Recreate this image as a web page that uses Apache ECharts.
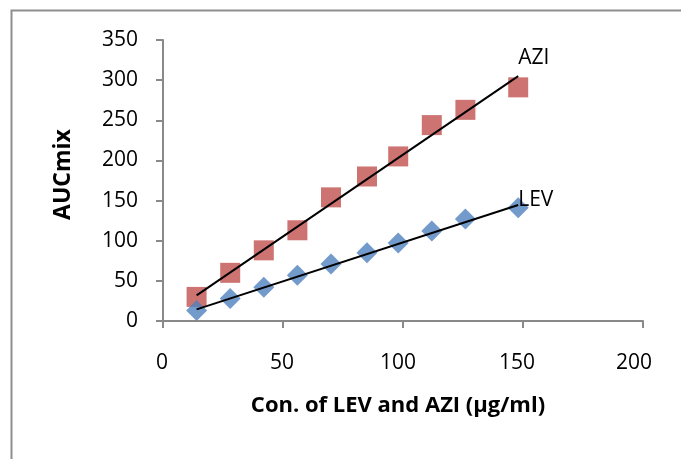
<!DOCTYPE html>
<html>
<head>
<meta charset="utf-8">
<title>AUCmix vs concentration</title>
<script src="https://cdn.jsdelivr.net/npm/echarts@6/dist/echarts.min.js"></script>
<style>
  html, body { margin: 0; padding: 0; background: #fff; }
  #chart { width: 681px; height: 459px; }
</style>
</head>
<body>
<div id="chart"></div>
<script>
  // concentrations (µg/ml)
  let conc = [14, 28, 42, 56, 70, 85, 98, 112, 126, 148]
  let aziVals = [30, 60, 88, 113, 154, 180, 205, 244, 263, 291]
  let levVals = [13, 28, 42, 57, 71, 85, 97, 112, 127, 141]
  // trendline end points
  let aziTrend = [[14, 32], [148, 305]]
  let levTrend = [[14, 14.5], [148, 144.5]]
  let xTicks = [0, 50, 100, 150, 200]
  let yTicks = [0, 50, 100, 150, 200, 250, 300, 350]

  let font = 'Open Sans'
  let axisGray = '#898989'

  let myChart = echarts.init(document.getElementById('chart'))

  let pairs = (xs, ys) => xs.map((x, i) => [x, ys[i]])

  // the x tick labels drift a little to the left in the original
  let xShift = [1, 1, 5, 6, 9]
  let xRich = {}
  xShift.forEach((s, i) => {
    xRich['t' + i] = { fontSize: 21, color: '#000', fontFamily: font, padding: [0, s * 2, 0, 0] }
  })

  myChart.setOption({
    animation: false,
    textStyle: { fontFamily: font },
    graphic: [{
      type: 'polyline',
      shape: { points: [[11.5, 459], [11.5, 10.5], [681, 10.5]] },
      style: { stroke: '#8e8e8e', lineWidth: 2, fill: null },
      silent: true
    }],
    grid: { left: 163, right: 38, top: 40, bottom: 138 },
    xAxis: {
      type: 'value',
      min: xTicks[0],
      max: xTicks[xTicks.length - 1],
      interval: 50,
      name: 'Con. of LEV and AZI (µg/ml)',
      nameLocation: 'middle',
      nameGap: 74,
      nameTextStyle: { fontSize: 22, fontWeight: 'bold', color: '#000', fontFamily: font, padding: [0, 10, 0, 0] },
      axisLine: { lineStyle: { color: axisGray, width: 2 } },
      axisTick: { show: true, length: 7, lineStyle: { color: axisGray, width: 2 } },
      axisLabel: {
        margin: 32,
        formatter: v => '{t' + xTicks.indexOf(v) + '|' + v + '}',
        rich: xRich
      },
      splitLine: { show: false }
    },
    yAxis: {
      type: 'value',
      min: yTicks[0],
      max: yTicks[yTicks.length - 1],
      interval: 50,
      name: 'AUCmix',
      nameLocation: 'middle',
      nameGap: 88,
      nameTextStyle: { fontSize: 23, fontWeight: 'bold', color: '#000', fontFamily: font, padding: [0, 0, 0, 12] },
      axisLine: { show: true, lineStyle: { color: axisGray, width: 2 } },
      axisTick: { show: true, length: 7, lineStyle: { color: axisGray, width: 2 } },
      axisLabel: { fontSize: 21, color: '#000', margin: 25 },
      splitLine: { show: false }
    },
    series: [
      {
        name: 'AZI',
        type: 'scatter',
        symbol: 'rect',
        symbolSize: 20,
        itemStyle: { color: '#C0504D' },
        data: pairs(conc, aziVals),
        z: 2
      },
      {
        name: 'LEV',
        type: 'scatter',
        symbol: 'diamond',
        symbolSize: [21, 21],
        itemStyle: { color: '#4F81BD' },
        data: pairs(conc, levVals),
        z: 2
      },
      {
        name: 'AZI trend',
        type: 'line',
        symbol: 'none',
        lineStyle: { color: '#000', width: 2 },
        data: aziTrend,
        z: 3,
        endLabel: { show: true, formatter: 'AZI', fontSize: 21, color: '#000', distance: 0, offset: [0, -18] }
      },
      {
        name: 'LEV trend',
        type: 'line',
        symbol: 'none',
        lineStyle: { color: '#000', width: 2 },
        data: levTrend,
        z: 3,
        endLabel: { show: true, formatter: 'LEV', fontSize: 21, color: '#000', distance: 0, offset: [0, -5] }
      }
    ]
  })
</script>
</body>
</html>
